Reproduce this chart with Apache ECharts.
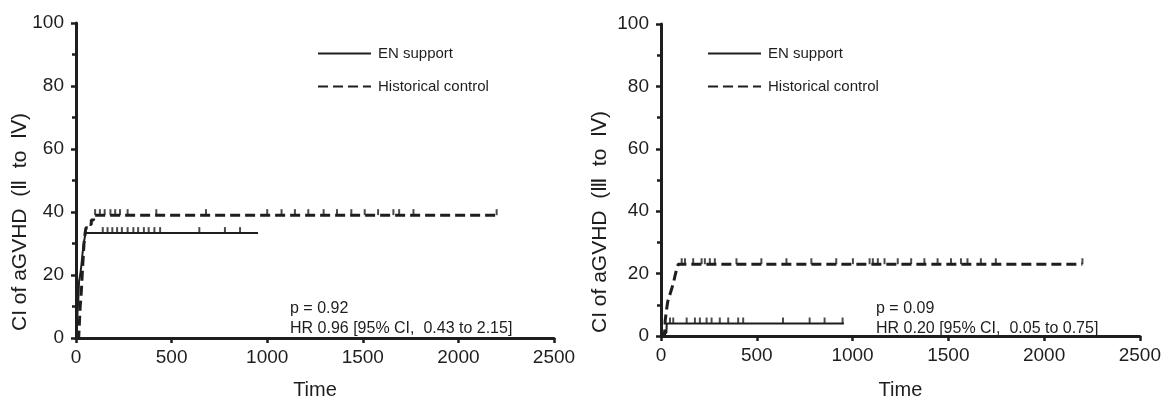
<!DOCTYPE html>
<html>
<head>
<meta charset="utf-8">
<script src="https://cdn.jsdelivr.net/npm/echarts@6.0.0/dist/echarts.min.js"></script>
<style>
html, body { margin: 0; padding: 0; background: #fff; }
#chart { width: 1164px; height: 405px; }
</style>
</head>
<body>
<div id="chart"></div>
<script>
// 左图: aGVHD II-IV
var enLeft = [[0, 0], [5, 3], [8, 8], [12, 12], [16, 18], [22, 20], [28, 23], [33, 26], [38, 29], [43, 31], [50, 33.3], [952, 33.3]];
var histLeft = [[0, 0], [14, 0], [18, 5], [22, 10], [26, 13], [30, 17], [34, 22], [38, 26], [42, 30], [47, 33], [52, 35], [65, 36], [80, 37.5], [92, 39], [2202, 39]];
var enLeftCens = [140, 165, 190, 215, 240, 270, 300, 325, 355, 380, 410, 440, 645, 779, 858];
var histLeftCens = [100, 125, 150, 180, 205, 230, 270, 420, 680, 1000, 1075, 1145, 1215, 1295, 1365, 1440, 1510, 1580, 1660, 1690, 1765, 2200];

// 右图: aGVHD III-IV
var enRight = [[0, 0], [10, 1], [28, 1], [30, 4], [955, 4]];
var histRight = [[0, 0], [18, 0], [22, 5], [28, 8], [35, 11], [45, 13], [55, 15], [65, 17], [72, 19], [80, 21], [90, 23], [2200, 23]];
var enRightCens = [47, 64, 134, 177, 203, 238, 264, 307, 351, 403, 429, 637, 776, 854, 948];
var histRightCens = [108, 125, 168, 212, 229, 255, 281, 394, 524, 655, 785, 915, 1002, 1089, 1106, 1132, 1167, 1236, 1306, 1375, 1444, 1514, 1566, 1600, 1670, 1748, 2200];

var xTicks = [0, 500, 1000, 1500, 2000, 2500];
var yTicks = [0, 20, 40, 60, 80, 100];
var legendNames = ['EN support', 'Historical control'];
var yTitles = ['CI of aGVHD  (Ⅱ  to  Ⅳ)', 'CI of aGVHD  (Ⅲ  to  Ⅳ)'];
var notes = [['p = 0.92', 'HR 0.96 [95% CI,  0.43 to 2.15]'], ['p = 0.09', 'HR 0.20 [95% CI,  0.05 to 0.75]']];

var ink = '#1e1e1e';
var font = 'Liberation Sans, Arial, sans-serif';

function cens(xs, y) {
    return xs.map(function (x) { return [x, y]; });
}

function xAxisOf(i, gap) {
    return {
        gridIndex: i, type: 'value', min: xTicks[0], max: xTicks[xTicks.length - 1], interval: 500,
        name: 'Time', nameLocation: 'middle', nameGap: gap,
        nameTextStyle: { fontFamily: font, fontSize: 20, color: ink },
        axisLine: { show: true, lineStyle: { color: ink, width: 3 } },
        axisTick: { show: true, length: 5, lineStyle: { color: ink, width: 2.5 } },
        axisLabel: {
            margin: 10, fontFamily: font, fontSize: 19, color: ink,
            formatter: function (v) { return String(v); }
        },
        splitLine: { show: false }
    };
}

function yAxisOf(i) {
    return {
        gridIndex: i, type: 'value', min: yTicks[0], max: yTicks[yTicks.length - 1], interval: 20,
        axisLine: { show: true, lineStyle: { color: ink, width: 3 } },
        axisTick: { show: true, length: 5, lineStyle: { color: ink, width: 2.5 } },
        minorTick: { show: true, splitNumber: 2, length: 4, lineStyle: { color: ink, width: 2.5 } },
        axisLabel: { margin: 12, fontFamily: font, fontSize: 19, color: ink },
        splitLine: { show: false }
    };
}

function curve(name, data, i, dashed) {
    return {
        name: name, type: 'line', step: 'end', data: data,
        xAxisIndex: i, yAxisIndex: i, symbol: 'none', silent: true,
        lineStyle: { color: ink, width: dashed ? 3 : 2, type: dashed ? [10, 5] : 'solid' },
        itemStyle: { color: ink }
    };
}

function ticks(name, data, i) {
    return {
        name: name, type: 'scatter', data: data, xAxisIndex: i, yAxisIndex: i,
        symbol: 'rect', symbolSize: [2, 6], symbolOffset: [0, -3], silent: true,
        itemStyle: { color: ink }
    };
}

function legendOf(left) {
    return {
        data: legendNames, orient: 'vertical', left: left, top: 46, padding: 0,
        itemWidth: 53, itemHeight: 14, itemGap: 18, selectedMode: false,
        itemStyle: { opacity: 0 },
        textStyle: { fontFamily: font, fontSize: 15, color: ink, padding: [0, 0, 0, 2] }
    };
}

function noteText(x, lines) {
    return {
        type: 'text', left: x, top: 299,
        style: { text: lines.join('\n'), fontFamily: font, fontSize: 16, lineHeight: 20, fill: ink }
    };
}

function yTitle(cx, text) {
    return {
        type: 'text', x: cx, y: 222, rotation: Math.PI / 2,
        style: { text: text, fontFamily: font, fontSize: 21, fill: ink, align: 'center', verticalAlign: 'middle' }
    };
}

var myChart = echarts.init(document.getElementById('chart'));
var option = {
    backgroundColor: '#fff',
    animation: false,
    grid: [
        { left: 76, top: 23, width: 478, height: 320 },
        { left: 661, top: 24, width: 480, height: 319 }
    ],
    xAxis: [xAxisOf(0, 42), xAxisOf(1, 44)],
    yAxis: [yAxisOf(0), yAxisOf(1)],
    legend: [legendOf(317), legendOf(707)],
    graphic: [
        yTitle(20, yTitles[0]),
        yTitle(600, yTitles[1]),
        noteText(290, notes[0]),
        noteText(876, notes[1])
    ],
    series: [
        curve('EN support', enLeft, 0, false),
        curve('Historical control', histLeft, 0, true),
        ticks('EN support censored', cens(enLeftCens, 33.3), 0),
        ticks('Historical control censored', cens(histLeftCens, 39), 0),
        curve('EN support', enRight, 1, false),
        curve('Historical control', histRight, 1, true),
        ticks('EN support censored', cens(enRightCens, 4), 1),
        ticks('Historical control censored', cens(histRightCens, 23), 1)
    ]
};
myChart.setOption(option);
</script>
</body>
</html>
